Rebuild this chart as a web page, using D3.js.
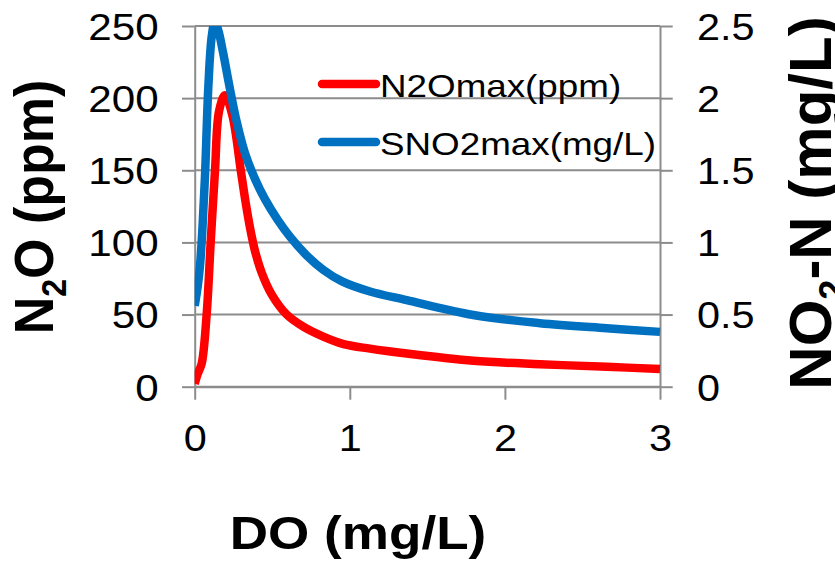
<!DOCTYPE html>
<html><head><meta charset="utf-8">
<script src="https://cdn.jsdelivr.net/npm/d3@7"></script>
<style>
body{margin:0;background:#fff}
svg{display:block}
text{font-family:"Liberation Sans",Arial,Helvetica,sans-serif;fill:#000}
</style>
</head><body>
<svg id="c" width="835" height="566"></svg>
<script>
// ---- data ----
const doRed = [0,0.02,0.045,0.077,0.103,0.131,0.157,0.195,0.243,0.297,0.325,0.357,0.389,0.432,0.496,0.593,0.70,0.829,0.96,1.13,1.367,1.796,2.226,2.656,3];
const n2oMax = [2,9,16,50,100,150,191,202,188,150,130,110,94,79,64,50,41.6,34.7,29.5,26.4,23,18,15.6,13.8,12.3];
const doBlue = [0,0.02,0.035,0.05,0.066,0.088,0.11,0.13,0.152,0.184,0.228,0.27,0.324,0.389,0.453,0.533,0.614,0.722,0.829,0.95,1.13,1.367,1.796,2.226,2.656,3];
const sno2Max = [0.56,0.7,0.85,1.1,1.45,2.08,2.43,2.53,2.47,2.31,2.06,1.84,1.62,1.44,1.30,1.16,1.04,0.91,0.81,0.73,0.66,0.60,0.497,0.44,0.405,0.38];
const xTicks = [0,1,2,3];
const leftTicks = [0,50,100,150,200,250];
const rightTicks = [0,0.5,1,1.5,2,2.5];
const seriesNames = ["N2Omax(ppm)","SNO2max(mg/L)"];
const seriesColors = ["#ff0000","#0070c0"];

// ---- layout ----
const L=194.7, R=660, T=26, B=386.7;
const grid="#8c8c8c";
const x=d3.scaleLinear().domain([0,3]).range([L,R]);
const yL=d3.scaleLinear().domain([0,250]).range([B,T]);
const yR=d3.scaleLinear().domain([0,2.5]).range([B,T]);
const svg=d3.select("#c");

// gridlines
svg.append("g").selectAll("line").data(leftTicks).join("line")
  .attr("x1",L).attr("x2",R).attr("y1",d=>yL(d)).attr("y2",d=>yL(d))
  .attr("stroke",grid).attr("stroke-width",2);

function styleAxis(g){
  g.selectAll(".domain").attr("stroke",grid).attr("stroke-width",2);
  g.selectAll(".tick line").attr("stroke",grid).attr("stroke-width",2);
  g.selectAll("text").attr("font-size",37).attr("fill","#000")
    .attr("x",null).attr("y",null).attr("dy",null);
}
const gL=svg.append("g").attr("transform",`translate(${L},0)`)
  .call(d3.axisLeft(yL).tickValues(leftTicks).tickSizeInner(12.7).tickSizeOuter(0).tickFormat(d3.format("d")));
styleAxis(gL);
gL.selectAll("text").attr("text-anchor","end").attr("transform","translate(-36,13.3) scale(1.14,1)");

const gR=svg.append("g").attr("transform",`translate(${R},0)`)
  .call(d3.axisRight(yR).tickValues(rightTicks).tickSizeInner(12.7).tickSizeOuter(0).tickFormat(d=>String(d)));
styleAxis(gR);
gR.selectAll("text").attr("text-anchor","start").attr("transform","translate(37,13.3) scale(1.12,1)");

const gX=svg.append("g").attr("transform",`translate(0,${B})`)
  .call(d3.axisBottom(x).tickValues(xTicks).tickSizeInner(13).tickSizeOuter(0).tickFormat(d3.format("d")));
styleAxis(gX);
gX.selectAll("text").attr("text-anchor","middle").attr("transform","translate(0,64) scale(1.12,1)");

// clip to plot area
svg.append("clipPath").attr("id","pc").append("rect")
  .attr("x",L).attr("y",T).attr("width",R-L+10).attr("height",B-T);

const line=(xs,ys,ysc)=>d3.line().x((d,i)=>x(xs[i])).y((d,i)=>ysc(ys[i])).curve(d3.curveCatmullRom.alpha(0.5))(ys);
const pg=svg.append("g").attr("clip-path","url(#pc)");
pg.append("path").attr("d",line(doRed,n2oMax,yL)).attr("fill","none")
  .attr("stroke",seriesColors[0]).attr("stroke-width",8.5).attr("stroke-linejoin","round");
pg.append("path").attr("d",line(doBlue,sno2Max,yR)).attr("fill","none")
  .attr("stroke",seriesColors[1]).attr("stroke-width",8.5).attr("stroke-linejoin","round");

// legend
const lg=svg.append("g");
[84,142].forEach((yy,i)=>{
  lg.append("line").attr("x1",322).attr("x2",376).attr("y1",yy).attr("y2",yy)
    .attr("stroke",seriesColors[i]).attr("stroke-width",8.5).attr("stroke-linecap","round");
  lg.append("text").attr("transform",`translate(380,${yy+13}) scale(1.15,1)`)
    .attr("font-size",32).text(seriesNames[i]);
});

// titles
svg.append("text").attr("transform","translate(358,549) scale(1.13,1)")
  .attr("text-anchor","middle").attr("font-size",47).attr("font-weight","bold").text("DO (mg/L)");

const tl=svg.append("text").attr("transform","translate(53,207) rotate(-90) scale(1,1.08)")
  .attr("text-anchor","middle").attr("font-size",52).attr("font-weight","bold");
tl.append("tspan").text("N");
tl.append("tspan").attr("font-size",32).attr("dy",12).text("2");
tl.append("tspan").attr("dy",-12).text("O (ppm)");

const tr=svg.append("text").attr("transform","translate(831,203) rotate(-90)")
  .attr("text-anchor","middle").attr("font-size",60).attr("font-weight","bold");
tr.append("tspan").text("NO");
tr.append("tspan").attr("font-size",36).attr("dy",14).text("2");
tr.append("tspan").attr("dy",-14).text("-N (mg/L)");
</script>
</body></html>
